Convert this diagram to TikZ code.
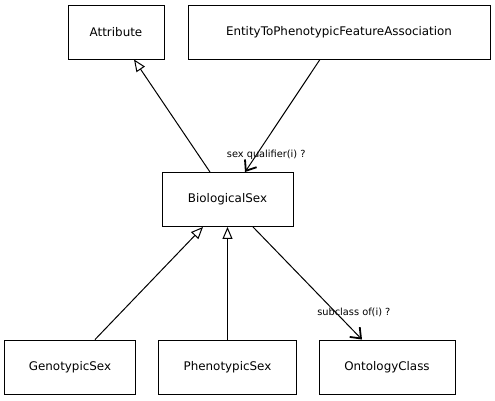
\documentclass[tikz,border=0pt]{standalone}
\usepackage{fontspec}
\setmainfont{DejaVu Sans}
\usepackage{tikz}
\usetikzlibrary{arrows.meta, positioning}

\begin{document}
\begin{tikzpicture}[
    x=1pt, y=-1pt,
    box/.style={rectangle, draw, line width=0.9pt, minimum height=54pt, font=\fontsize{11.9}{14}\selectfont, align=center, inner sep=0pt},
    isa/.style={-{Triangle[open, length=12pt, width=10pt]}, line width=1pt},
    assoc/.style={-{Straight Barb[length=9pt, width=14pt, line width=1.8pt]}, line width=1pt},
    lbl/.style={font=\fontsize{9.8}{11}\selectfont, inner sep=0pt}
]
\useasboundingbox (0,0) rectangle (495,400);

% Top row
\node[box, minimum width=96pt]  (attr)   at (116,32)    {Attribute};
\node[box, minimum width=302pt] (efa)    at (339,32)    {EntityToPhenotypicFeatureAssociation};

% Middle
\node[box, minimum width=131pt] (biosex) at (227.5,199.5) {BiologicalSex};

% Bottom row
\node[box, minimum width=131pt] (geno)   at (70,367)    {GenotypicSex};
\node[box, minimum width=138pt] (pheno)  at (227.5,367) {PhenotypicSex};
\node[box, minimum width=136pt] (onto)   at (387,367)   {OntologyClass};

% is-a arrows
\draw[isa] ([xshift=-17.5pt]biosex.north) -- ([xshift=18pt]attr.south);
\draw[isa] ([xshift=25pt]geno.north) -- ([xshift=-24.5pt]biosex.south);
\draw[isa] (pheno.north) -- (biosex.south);

% slot arrows
\draw[assoc] ([xshift=-19pt]efa.south) -- node[lbl, pos=0.85, xshift=10pt]{sex qualifier(i) ?} ([xshift=17.5pt]biosex.north);
\draw[assoc] ([xshift=25.5pt]biosex.south) -- node[lbl, pos=0.76, xshift=18pt]{subclass of(i) ?} ([xshift=-25pt]onto.north);
\end{tikzpicture}
\end{document}
